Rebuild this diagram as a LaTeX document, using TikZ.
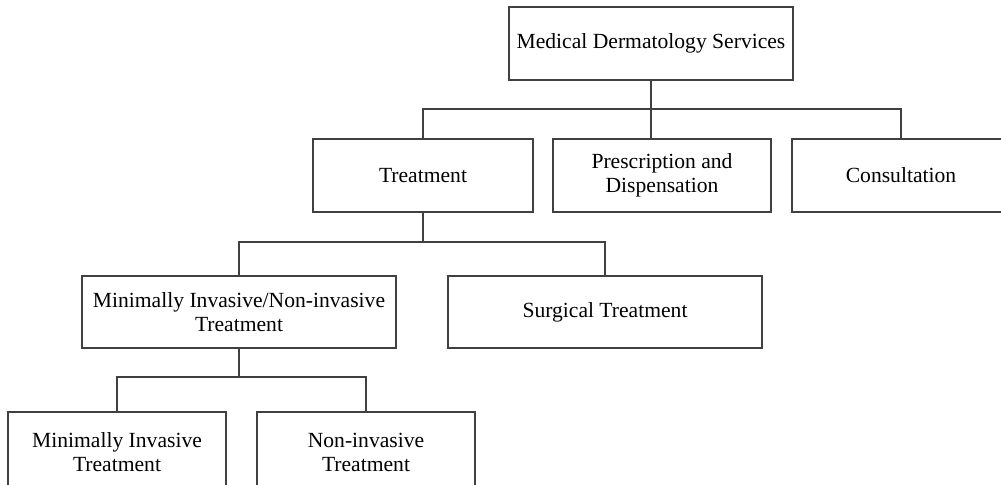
\documentclass[tikz,border=0pt]{standalone}
\usepackage{fontspec}
\setmainfont{Liberation Serif}
\usetikzlibrary{positioning}

\tikzset{
  box/.style={draw=black!75, line width=0.6pt, align=center, inner sep=0pt,
    minimum height=36.5pt, font=\fontsize{10.8}{12}\selectfont},
  link/.style={draw=black!75, line width=0.6pt}
}

\begin{document}
\begin{tikzpicture}[x=0.5pt, y=-0.5pt]
\useasboundingbox (0,0) rectangle (1001,484);
\clip (0,0) rectangle (1001,484);
% Top level
\node[box, minimum width=142pt] (mds) at (651,43.5) {Medical Dermatology Services};
% Second level
\node[box, minimum width=110pt] (treat) at (423,175.5) {Treatment};
\node[box, minimum width=109pt] (presc) at (662,175.5) {Prescription and\\Dispensation};
\node[box, minimum width=109pt] (consult) at (901,175.5) {Consultation};
% Third level
\node[box, minimum width=157pt, minimum height=36pt] (minv) at (239,312) {Minimally Invasive/Non-invasive\\Treatment};
\node[box, minimum width=157pt, minimum height=36pt] (surg) at (605,312) {Surgical Treatment};
% Fourth level (runs past the bottom edge)
\node[box, minimum width=109pt, minimum height=40pt] (mi) at (117,452) {Minimally Invasive\\Treatment};
\node[box, minimum width=109pt, minimum height=40pt] (ni) at (366,452) {Non-invasive\\Treatment};
% Connectors
\coordinate (top) at (651,109);
\draw[link] (mds.south) -- (top);
\draw[link] (treat.north) |- (top) -| (consult.north);
\draw[link] (top) -- (top |- presc.north);
\coordinate (mid) at (423,242);
\draw[link] (treat.south) -- (mid);
\draw[link] (minv.north) |- (mid) -| (surg.north);
\coordinate (low) at (239,377);
\draw[link] (minv.south) -- (low);
\draw[link] (mi.north) |- (low) -| (ni.north);
\end{tikzpicture}
\end{document}
